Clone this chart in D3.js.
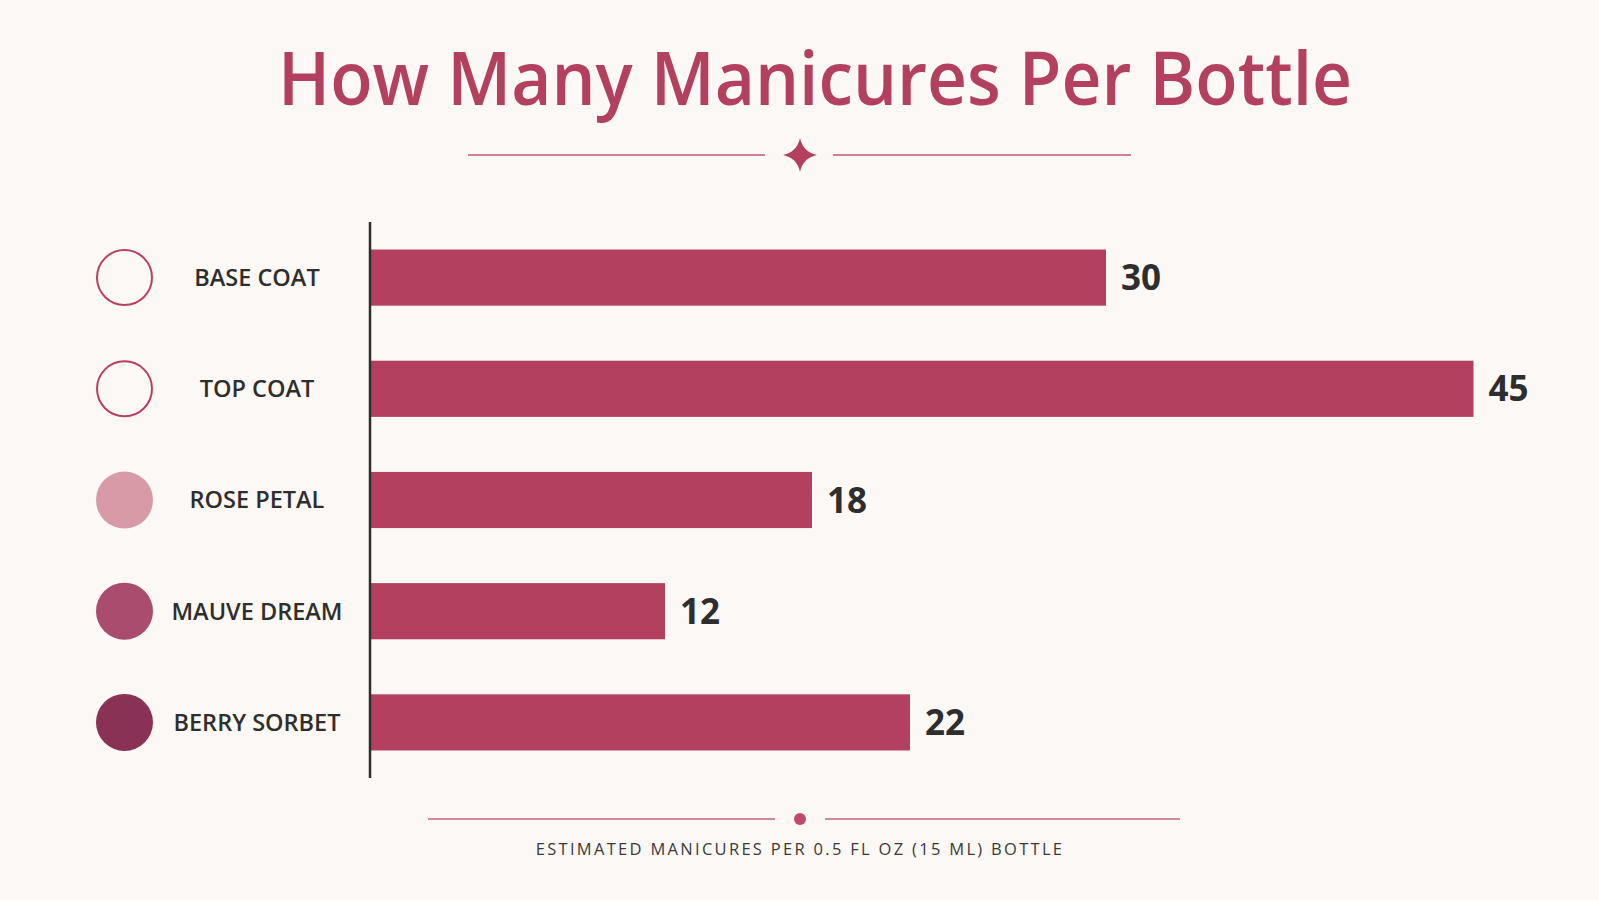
<!DOCTYPE html>
<html>
<head>
<meta charset="utf-8">
<script src="https://cdn.jsdelivr.net/npm/d3@7"></script>
<style>
    html, body { margin: 0; padding: 0; background: #fcf8f5; }
    svg { display: block; }
</style>
</head>
<body>
<svg id="chart" width="1599" height="900"></svg>
<script>
var products = ["BASE COAT", "TOP COAT", "ROSE PETAL", "MAUVE DREAM", "BERRY SORBET"];
var manicures = [30, 45, 18, 12, 22];
var swatchFill = ["none", "none", "#d99aa8", "#a94c6e", "#8a3156"];

var barColor = "#b3405f";
var inkColor = "#2e2e2e";

var svg = d3.select("#chart");

// title + star divider
svg.append("text")
    .attr("x", 815)
    .attr("y", 105)
    .attr("text-anchor", "middle")
    .attr("textLength", 1074)
    .attr("lengthAdjust", "spacingAndGlyphs")
    .style("font-family", "Open Sans")
    .style("font-weight", 600)
    .style("font-size", "74px")
    .style("fill", barColor)
    .text("How Many Manicures Per Bottle");

svg.append("line").attr("x1", 468).attr("x2", 765).attr("y1", 155).attr("y2", 155)
    .attr("stroke", "#c0587a").attr("stroke-width", 1.5);
svg.append("line").attr("x1", 833).attr("x2", 1131).attr("y1", 155).attr("y2", 155)
    .attr("stroke", "#c0587a").attr("stroke-width", 1.5);
svg.append("path")
    .attr("transform", "translate(800,155)")
    .attr("d", "M0,-17 Q3,-3 17,0 Q3,3 0,17 Q-3,3 -17,0 Q-3,-3 0,-17Z")
    .attr("fill", barColor);

var x = d3.scaleLinear()
    .domain([0, 50])
    .range([371, 1596]);

var y = d3.scaleBand()
    .domain(products)
    .range([222, 778])
    .paddingInner(0.495)
    .paddingOuter(0.2475);

var rows = manicures.map(function(v, i) {
    return {name: products[i], value: v, swatch: swatchFill[i]};
});

svg.selectAll(".bar")
    .data(rows)
    .enter().append("rect")
    .attr("class", "bar")
    .attr("x", x(0))
    .attr("y", function(d) { return y(d.name); })
    .attr("width", function(d) { return x(d.value) - x(0); })
    .attr("height", y.bandwidth())
    .attr("fill", barColor);

svg.selectAll(".val")
    .data(rows)
    .enter().append("text")
    .attr("class", "val")
    .attr("x", function(d) { return x(d.value) + 15; })
    .attr("y", function(d) { return y(d.name) + y.bandwidth() / 2; })
    .attr("dy", "0.36em")
    .style("font-family", "Open Sans")
    .style("font-weight", 700)
    .style("font-size", "35px")
    .style("fill", inkColor)
    .text(function(d) { return d.value; });

// legend swatches and names on the left
svg.selectAll(".swatch")
    .data(rows)
    .enter().append("circle")
    .attr("class", "swatch")
    .attr("cx", 124.5)
    .attr("cy", function(d) { return y(d.name) + y.bandwidth() / 2; })
    .attr("r", function(d) { return d.swatch == "none" ? 27.5 : 28.5; })
    .attr("fill", function(d) { return d.swatch; })
    .attr("stroke", function(d) { return d.swatch == "none" ? "#b8405f" : "none"; })
    .attr("stroke-width", 2);

svg.selectAll(".name")
    .data(rows)
    .enter().append("text")
    .attr("class", "name")
    .attr("x", 257)
    .attr("y", function(d) { return y(d.name) + y.bandwidth() / 2; })
    .attr("dy", "0.36em")
    .attr("text-anchor", "middle")
    .style("font-family", "Open Sans")
    .style("font-weight", 600)
    .style("font-size", "23.5px")
    .style("fill", inkColor)
    .text(function(d) { return d.name; });

svg.append("line")
    .attr("x1", 370).attr("x2", 370)
    .attr("y1", 222).attr("y2", 778)
    .attr("stroke", inkColor)
    .attr("stroke-width", 2.5);

// footer
svg.append("line").attr("x1", 428).attr("x2", 775).attr("y1", 819).attr("y2", 819)
    .attr("stroke", "#d5899e").attr("stroke-width", 2);
svg.append("line").attr("x1", 825).attr("x2", 1180).attr("y1", 819).attr("y2", 819)
    .attr("stroke", "#d5899e").attr("stroke-width", 2);
svg.append("circle").attr("cx", 800).attr("cy", 819).attr("r", 6).attr("fill", "#c04a6c");

svg.append("text")
    .attr("x", 800)
    .attr("y", 855)
    .attr("text-anchor", "middle")
    .style("font-family", "Open Sans")
    .style("font-size", "16.5px")
    .style("letter-spacing", "2.3px")
    .style("fill", "#3a3a3a")
    .text("ESTIMATED MANICURES PER 0.5 FL OZ (15 ML) BOTTLE");
</script>
</body>
</html>
